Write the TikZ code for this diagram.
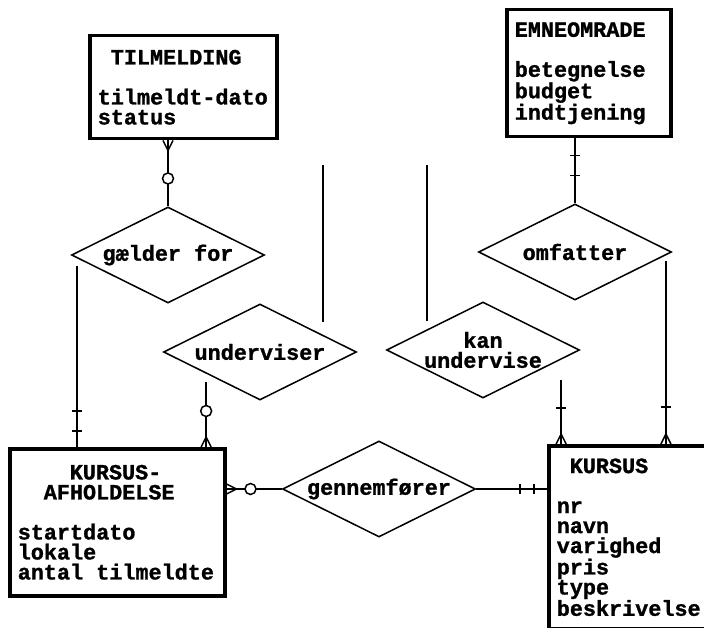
\documentclass[tikz,border=0pt]{standalone}
\usepackage{fontspec}
\setmainfont{Liberation Mono}[BoldFeatures={FakeBold=1.2}]
\usepackage{tikz}
\usetikzlibrary{shapes.geometric, arrows}
\tikzstyle{entity} = [rectangle, anchor=north west, draw=black, line width=3.5pt, align=left, inner xsep=8pt, inner ysep=0pt]
\tikzstyle{relation} = [diamond, aspect=2, minimum width=193pt, minimum height=96pt, inner sep=0pt, align=center, draw=black, line width=1.5pt]
\tikzstyle{line} = [line width=1.8pt]
\tikzstyle{tick} = [line width=1.5pt]
\tikzset{
  bar/.pic = {\draw [tick] (-5,0) -- (5,0);},
  ring/.pic = {\draw [tick, fill=white] (0,0) circle [radius=5.5pt];},
  crow/.pic = {\draw [tick] (-5,10) -- (0,0) -- (5,10) (0,0) -- (0,10);}
}

\begin{document}
\begin{tikzpicture}[x=1pt, y=-1pt, font=\fontsize{21.8}{20}\selectfont\bfseries]
        \useasboundingbox (0,0) rectangle (704,628);
        \clip (0,0) rectangle (704,628);
        % entities
        \node (tilm) [entity, text width=171pt, minimum height=103pt] at (88,34) {\hspace*{13pt}TILMELDING\\[20pt]tilmeldt-dato\\status};
        \node (emne) [entity, text width=148pt, minimum height=127pt] at (505,8) {EMNEOMRADE\\[20pt]betegnelse\\budget\\indtjening};
        \node (afh) [entity, text width=199pt, minimum height=147pt] at (8,447) {\hspace*{52pt}KURSUS-\\\hspace*{26pt}AFHOLDELSE\\[20pt]startdato\\lokale\\antal\hspace{13.08pt}tilmeldte};
        \node (kursus) [entity, text width=240pt, minimum height=183pt] at (547,444) {\hspace*{13pt}KURSUS\\[20pt]nr\\navn\\varighed\\pris\\type\\beskrivelse};
        % relations
        \node (gaelder) [relation] at (168,255) {gælder for};
        \node (underv) [relation] at (260,352) {underviser};
        \node (kanund) [relation] at (483,350) {kan\\undervise};
        \node (omf) [relation] at (575,252) {omfatter};
        \node (gennem) [relation] at (379,489) {gennemfører};
        \coordinate (top1) at (323,165);
        \coordinate (top2) at (428,165);
        % connectors
        \draw [line] (gaelder.north |- tilm.south) -- (gaelder.north);
        \draw [line, shorten <=8pt] (gaelder.182) -- (gaelder.182 |- afh.north);
        \draw [line, shorten <=8pt] (underv.202) -- (underv.202 |- afh.north);
        \draw [line, shorten <=13pt] (underv.15) -- (underv.15 |- top1);
        \draw [line, shorten <=8pt] (kanund.160) -- (kanund.160 |- top2);
        \draw [line, shorten <=20pt] (kanund.353) -- (kanund.353 |- kursus.north);
        \draw [line] (omf.north |- emne.south) -- (omf.north);
        \draw [line, shorten <=6pt] (omf.358) -- (omf.358 |- kursus.north);
        \draw [line] (gennem.west -| afh.east) -- (gennem.west);
        \draw [line] (gennem.east) -- (gennem.east -| kursus.west);
        % cardinality marks
        \pic [rotate=180] at ([yshift=-10pt]gaelder.north |- tilm.south) {crow};
        \pic at ([yshift=-38pt]gaelder.north |- tilm.south) {ring};
        \pic at ([yshift=36pt]gaelder.182 |- afh.north) {bar};
        \pic at ([yshift=16pt]gaelder.182 |- afh.north) {bar};
        \pic at ([yshift=36pt]underv.202 |- afh.north) {ring};
        \pic at ([yshift=10pt]underv.202 |- afh.north) {crow};
        \pic at ([yshift=36pt]kanund.353 |- kursus.north) {bar};
        \pic at ([yshift=10pt]kanund.353 |- kursus.north) {crow};
        \pic at ([yshift=37pt]omf.358 |- kursus.north) {bar};
        \pic at ([yshift=10pt]omf.358 |- kursus.north) {crow};
        \pic at ([yshift=-17pt]omf.north |- emne.south) {bar};
        \pic at ([yshift=-37pt]omf.north |- emne.south) {bar};
        \pic [rotate=-90] at ([xshift=10pt]gennem.west -| afh.east) {crow};
        \pic at ([xshift=24pt]gennem.west -| afh.east) {ring};
        \pic [rotate=90] at ([xshift=-27pt]gennem.east -| kursus.west) {bar};
        \pic [rotate=90] at ([xshift=-13pt]gennem.east -| kursus.west) {bar};
    \end{tikzpicture}
\end{document}
